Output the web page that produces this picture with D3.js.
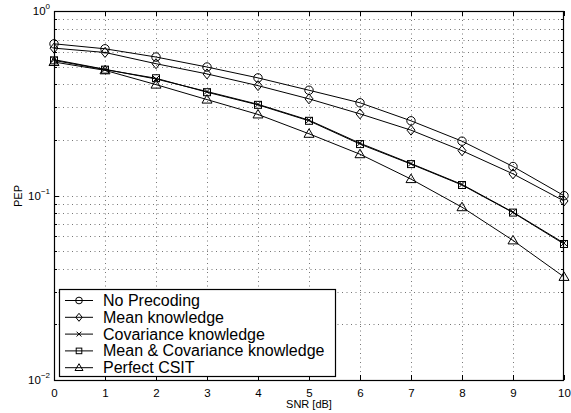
<!DOCTYPE html>
<html><head><meta charset="utf-8">
<script src="https://cdn.jsdelivr.net/npm/d3@7"></script>
<style>body{margin:0;background:#fff}svg{display:block}text{font-family:"Liberation Sans",Arial,sans-serif;fill:#000}</style>
</head><body>
<script>
const snr = [0,1,2,3,4,5,6,7,8,9,10];
const noPrecoding = [0.664,0.624,0.563,0.497,0.434,0.372,0.318,0.254,0.197,0.1436,0.0998];
const meanKnowledge = [0.629,0.596,0.518,0.456,0.394,0.334,0.277,0.226,0.175,0.131,0.0934];
const covKnowledge = [0.545,0.483,0.428,0.366,0.312,0.256,0.192,0.149,0.1148,0.0812,0.0552];
const meanCovKnowledge = [0.540,0.481,0.432,0.363,0.310,0.254,0.190,0.148,0.1140,0.0808,0.0546];
const perfectCSIT = [0.529,0.477,0.399,0.331,0.275,0.216,0.1674,0.1227,0.0864,0.0571,0.0362];
const seriesNames = ["No Precoding","Mean knowledge","Covariance knowledge","Mean & Covariance knowledge","Perfect CSIT"];
const seriesMarkers = ["circle","diamond","cross","square","triangle"];
const xTicks = [0,1,2,3,4,5,6,7,8,9,10];
const yMajor = [1,0.1,0.01];
const yExp = ["0","\u22121","\u22122"];

const W=571,H=413;
const L=54,R=564,T=11,B=380;
const svg=d3.select("body").append("svg").attr("width",W).attr("height",H);
const x=d3.scaleLinear().domain([0,10]).range([L,R]);
const y=d3.scaleLog().domain([0.01,1]).range([B,T]);

const yMinor=[];
[0.01,0.1].forEach(d=>{for(let k=2;k<=9;k++)yMinor.push(d*k);});
const allY=yMajor.concat(yMinor);

// grid
const g=svg.append("g");
g.selectAll(".gx").data(xTicks.slice(1,-1)).enter().append("line")
 .attr("x1",d=>x(d)+0.5).attr("x2",d=>x(d)+0.5).attr("y1",T).attr("y2",B)
 .attr("stroke","#777").attr("stroke-width",1).attr("stroke-dasharray","1,3.5");
g.selectAll(".gy").data(allY.filter(d=>d!==1&&d!==0.01)).enter().append("line")
 .attr("x1",L).attr("x2",R).attr("y1",d=>Math.round(y(d))+0.5).attr("y2",d=>Math.round(y(d))+0.5)
 .attr("stroke","#777").attr("stroke-width",1).attr("stroke-dasharray","1,3.5");

// axes
const ax=svg.append("g");
const xb=d3.axisBottom(x).tickValues(xTicks).tickSize(-5).tickPadding(9).tickFormat(d3.format("d"));
ax.append("g").attr("transform",`translate(0,${B})`).call(xb)
 .call(s=>{s.select(".domain").remove();s.selectAll("text").attr("font-size",11.5).attr("font-family","Liberation Sans, Arial");});
ax.append("g").attr("transform",`translate(0,${T})`).call(d3.axisTop(x).tickValues(xTicks).tickSize(-5).tickFormat(""))
 .call(s=>s.select(".domain").remove());
const ylTicks=(sel,side)=>{
  sel.selectAll(".yt").data(allY).enter().append("line")
   .attr("x1",side).attr("x2",d=>side+(side===L?1:-1)*(yMajor.includes(d)?5:3))
   .attr("y1",d=>Math.round(y(d))+0.5).attr("y2",d=>Math.round(y(d))+0.5).attr("stroke","#000");
};
ylTicks(ax,L); ylTicks(ax,R);
ax.append("rect").attr("x",L+0.5).attr("y",T+0.5).attr("width",R-L-1).attr("height",B-T)
 .attr("fill","none").attr("stroke","#000").attr("stroke-width",1.2);

// y tick labels
const yl=svg.append("g");
yMajor.forEach((d,i)=>{
  const t=yl.append("text").attr("x",L-4).attr("y",y(d)+4).attr("text-anchor","end").attr("font-size",11.5);
  t.append("tspan").text("10");
  t.append("tspan").attr("dy",-6).attr("font-size",8).text(yExp[i]);
});
svg.append("text").attr("x",309).attr("y",408).attr("text-anchor","middle").attr("font-size",11).text("SNR [dB]");
svg.append("text").attr("transform","translate(22,196) rotate(-90)").attr("text-anchor","middle").attr("font-size",11).text("PEP");

// markers
function marker(sel,type,cx,cy,s){
  s=s||1;
  if(type==="circle") sel.append("circle").attr("cx",cx).attr("cy",cy).attr("r",4.2*s);
  else if(type==="diamond") sel.append("path").attr("d",`M${cx},${cy-5*s}L${cx+4*s},${cy}L${cx},${cy+5*s}L${cx-4*s},${cy}Z`);
  else if(type==="square") sel.append("rect").attr("x",cx-3.5*s).attr("y",cy-3.5*s).attr("width",7*s).attr("height",7*s);
  else if(type==="triangle") sel.append("path").attr("d",`M${cx},${cy-5*s}L${cx+5*s},${cy+3.5*s}L${cx-5*s},${cy+3.5*s}Z`);
  else if(type==="cross") sel.append("path").attr("d",`M${cx-3*s},${cy-3*s}L${cx+3*s},${cy+3*s}M${cx-3*s},${cy+3*s}L${cx+3*s},${cy-3*s}`);
}
const allSeries=[noPrecoding,meanKnowledge,covKnowledge,meanCovKnowledge,perfectCSIT];
const line=d3.line().x((d,i)=>x(snr[i])).y(d=>y(d));
const plot=svg.append("g");
allSeries.forEach((vals,si)=>{
  plot.append("path").attr("d",line(vals)).attr("fill","none").attr("stroke","#000").attr("stroke-width",1);
  const mg=plot.append("g").attr("fill","none").attr("stroke","#000").attr("stroke-width",1);
  vals.forEach((v,i)=>marker(mg,seriesMarkers[si],x(snr[i]),y(v)));
});

// legend
const lg=svg.append("g");
lg.append("rect").attr("x",59.5).attr("y",289.5).attr("width",276).attr("height",87)
 .attr("fill","#fff").attr("stroke","#000").attr("stroke-width",1.2);
seriesNames.forEach((n,i)=>{
  const cy=300.5+i*16.8;
  lg.append("line").attr("x1",65).attr("x2",93).attr("y1",cy).attr("y2",cy).attr("stroke","#000");
  const mg=lg.append("g").attr("fill","none").attr("stroke","#000");
  marker(mg,seriesMarkers[i],79,cy,0.8);
  lg.append("text").attr("x",103).attr("y",cy+5.5).attr("font-size",16).text(n);
});
</script>
</body></html>
